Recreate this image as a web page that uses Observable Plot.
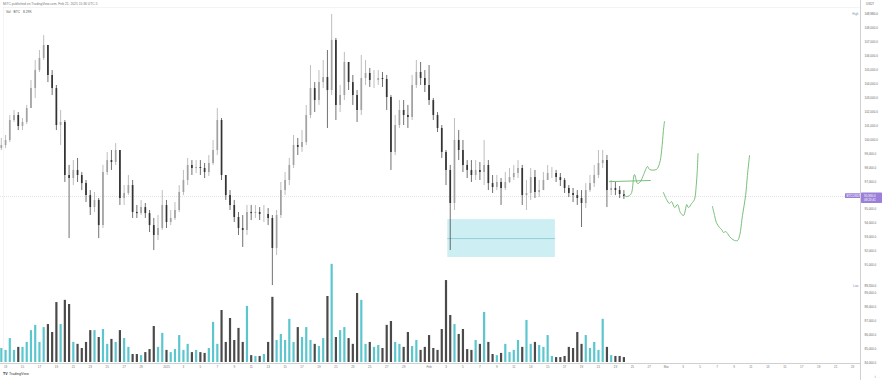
<!DOCTYPE html>
<html><head><meta charset="utf-8">
<script src="https://cdn.jsdelivr.net/npm/d3@7"></script>
<script src="https://cdn.jsdelivr.net/npm/@observablehq/plot@0.6"></script>
<style>
html,body{margin:0;padding:0;background:#fff;}
#chart{position:relative;width:882px;height:380px;overflow:hidden;background:#fff;}
#chart svg{position:absolute;left:0;top:0;}
</style></head><body><div id="chart"></div>
<script>
// ---- data (12h candles, BTC/USDT) ----
const candleStart = "2024-12-12T12:00Z";
const firstOpen = 99370;
const closes = [
99590,99950,101380,101740,100950,101240,102240,103670,104960,105830,
106760,104610,103670,101020,101240,97440,97220,97800,97440,96860,
96000,95140,95650,93850,97650,98510,98370,99230,95790,96150,
96720,94790,94710,95140,94710,93850,93140,93640,95290,94070,
94360,94930,96220,97080,98160,97940,98010,97940,97650,98300,
99230,101380,97440,96000,95290,94430,93640,93500,94790,94710,
94790,94640,94640,94360,92210,94570,96360,97080,98160,99590,
99450,99800,101740,103670,102810,104100,104460,103530,107120,102460,
103170,105540,104100,103170,102100,104390,104750,104250,104250,104390,
104320,103030,99090,101020,102100,101740,101600,103890,104820,104390,
103890,102810,101740,100810,99090,97800,95430,99950,99230,98160,
97800,97440,97800,97650,98160,96860,96580,96940,96510,96940,
97290,97580,97940,96000,96150,97290,96220,96360,97080,97580,
97580,97290,97080,96510,96150,96000,95790,95430,96360,96860,
97440,98300,98510,96360,96510,96360,96080,95930];
const highs = [
100090,100310,101740,102100,101950,101520,102460,104250,105680,106400,
107470,106760,104960,103890,102100,101380,98160,98510,98660,97650,
97080,96360,96220,95790,98160,99090,99230,99730,99230,96720,
97440,97080,95290,95650,95430,94930,94360,94570,96360,95650,
94930,95500,96720,97800,98660,98510,98510,98510,98300,98870,
99950,102240,101520,97440,96360,95650,94790,94570,95290,95290,
95290,95140,95290,95070,94570,94930,96940,97650,98660,100310,
100090,100660,102460,105320,104100,104960,105680,106400,108980,107260,
103890,106260,105540,104610,103530,106040,105680,105110,104960,104960,
104820,104610,103170,101740,102810,102810,102460,104610,105680,105540,
104960,105320,102960,101950,101020,99230,98160,101520,100660,99950,
98510,98510,98510,98370,99950,98510,97440,97440,97220,97650,
97940,98160,98510,98160,97080,97940,97800,97080,97650,98160,
98010,97800,97580,97220,96720,96510,96360,96360,96860,97440,
98160,99230,99230,98870,97080,96940,96650,96360];
const lows = [
99230,99370,99800,101240,100660,100660,101090,102240,102960,104820,
105680,104100,103170,100660,99590,96940,92920,96720,96940,96360,
95500,94570,94790,92920,93640,97440,97800,98160,95290,95290,
96000,94360,94360,94570,94360,93350,92060,92780,93500,93640,
93850,94210,94790,96000,96720,97440,97580,97440,97220,97370,
98160,98870,97080,95650,94930,94070,93140,92280,93140,94210,
94360,94210,94070,93850,89550,91700,94360,96000,96720,97940,
98870,99090,99590,101520,101950,102460,103670,100810,103170,101380,
101950,102810,103530,102460,101240,101740,103890,103750,103670,103890,
103750,102100,97800,98870,100810,101020,100810,101380,103670,103890,
103390,102460,101380,100520,98660,96720,92060,94930,98510,97650,
97220,96940,97080,97080,96720,96360,96150,96360,95290,96360,
96860,97080,97220,95290,94930,95650,95790,95860,96510,97080,
97220,96940,96650,96150,95860,95500,95290,93710,95070,96220,
96580,97220,97940,95140,96000,96000,95790,95720];
const volumesK = [
5.1,4.4,8.7,4.4,5.5,5.5,7.3,11.6,13.5,7.3,
12.7,13.8,10.9,21.8,13.8,22.6,21.1,7.3,6.6,5.1,
7.3,11.6,11.6,9.1,12.0,6.6,8.4,7.3,11.6,8.7,
5.5,2.9,2.9,2.5,3.6,4.7,13.1,5.5,10.6,4.4,
3.6,4.7,9.8,4.4,6.6,3.6,4.4,3.6,3.3,5.1,
14.6,6.6,18.9,7.3,16.0,8.0,12.4,7.3,20.4,2.5,
2.2,2.2,2.9,7.3,23.7,8.0,10.2,8.0,15.7,7.3,
12.7,9.1,12.7,8.0,6.6,5.8,8.7,24.0,35.7,9.1,
11.6,12.7,8.7,6.6,25.1,22.6,6.6,7.3,5.5,6.2,
5.1,13.5,14.9,7.3,6.6,5.5,10.9,5.8,8.0,4.4,
5.5,9.8,5.1,4.4,12.0,29.8,17.1,13.8,10.2,12.0,
4.7,4.4,8.0,6.6,18.2,7.3,2.9,2.5,3.3,6.6,
3.6,4.4,8.0,5.5,15.3,6.6,7.3,6.2,5.5,9.8,
2.2,1.8,1.8,2.2,5.5,5.1,10.9,6.6,9.8,5.1,
7.3,4.4,15.7,5.5,2.5,2.2,2.2,1.8];

// drawn annotations
const zoneBox = {from:"2025-02-03T05:00Z", to:"2025-02-15T22:00Z", top:94280, bottom:91560, mid:92920};
const pathA = [["2025-02-22T07:00Z",97000],["2025-02-27T03:00Z",97080]];
const pathB = [["2025-02-23T23:00Z",96080],["2025-02-24T07:00Z",95930],["2025-02-24T16:00Z",96000],["2025-02-24T22:00Z",96220],["2025-02-25T06:00Z",97510],["2025-02-25T15:00Z",96860],["2025-02-25T23:00Z",97010],["2025-02-26T08:00Z",97510],["2025-02-26T19:00Z",98080],["2025-02-27T01:00Z",97870],["2025-02-27T20:00Z",97870],["2025-02-28T05:00Z",98300],["2025-02-28T11:00Z",99230],["2025-02-28T16:00Z",100660],["2025-02-28T19:00Z",101310]];
const pathC = [["2025-02-28T16:00Z",96220],["2025-03-01T01:00Z",95720],["2025-03-01T09:00Z",95430],["2025-03-01T15:00Z",95570],["2025-03-02T00:00Z",95140],["2025-03-02T08:00Z",95360],["2025-03-02T16:00Z",94790],["2025-03-03T01:00Z",94570],["2025-03-03T06:00Z",94930],["2025-03-03T10:00Z",95360],["2025-03-03T15:00Z",95140],["2025-03-04T00:00Z",95430],["2025-03-04T08:00Z",95720],["2025-03-04T13:00Z",96720],["2025-03-04T16:00Z",97800],["2025-03-04T18:00Z",99010]];
const pathD = [["2025-03-06T11:00Z",95220],["2025-03-06T17:00Z",94570],["2025-03-06T22:00Z",94070],["2025-03-07T07:00Z",93710],["2025-03-07T13:00Z",93570],["2025-03-07T18:00Z",93350],["2025-03-08T00:00Z",93420],["2025-03-08T06:00Z",93280],["2025-03-08T11:00Z",93070],["2025-03-08T17:00Z",92920],["2025-03-09T02:00Z",92780],["2025-03-09T10:00Z",92780],["2025-03-09T16:00Z",93140],["2025-03-10T00:00Z",94570],["2025-03-10T09:00Z",96000],["2025-03-10T14:00Z",97440],["2025-03-10T20:00Z",98870]];

// axes
const xTickDates = ["2024-12-13","2024-12-15","2024-12-17","2024-12-19","2024-12-21","2024-12-23","2024-12-25","2024-12-27","2024-12-29",
"2025-01-01","2025-01-03","2025-01-05","2025-01-07","2025-01-09","2025-01-11","2025-01-13","2025-01-15","2025-01-17","2025-01-19","2025-01-21","2025-01-23","2025-01-25","2025-01-27","2025-01-29",
"2025-02-01","2025-02-03","2025-02-05","2025-02-07","2025-02-09","2025-02-11","2025-02-13","2025-02-15","2025-02-17","2025-02-19","2025-02-21","2025-02-23","2025-02-25","2025-02-27",
"2025-03-01","2025-03-03","2025-03-05","2025-03-07","2025-03-09","2025-03-11","2025-03-13","2025-03-15","2025-03-17","2025-03-19","2025-03-21","2025-03-23"];
const yTicks = [84000,85000,86000,87000,88000,89000,91000,92000,93000,94000,95000,97000,98000,99000,100000,101000,102000,103000,104000,105000,106000,107000,108000];
const xDomain = [new Date("2024-12-12T09:40Z"), new Date("2025-03-23T22:28Z")];

// ---- build ----
const upC = "#a2a2a2", downC = "#333333";
const t0 = +new Date(candleStart);
const candles = closes.map((c, i) => {
  const open = i ? closes[i-1] : firstOpen;
  return {t: new Date(t0 + i*12*3600e3), open, close: c,
    high: Math.max(highs[i], open, c), low: Math.min(lows[i], open, c),
    vol: volumesK[i], col: c >= open ? upC : downC, vcol: c >= open ? "#5cc6cf" : "#4a4a4a"};
});
const W = 882, H = 380;
const font = "'Liberation Sans', 'DejaVu Sans', Arial, sans-serif";
const lastClose = closes[closes.length-1];
const maxHigh = d3.max(candles, d => d.high), minLow = d3.min(candles, d => d.low);
const fmt = d3.format(",.1f");
const pt = d => ({t: new Date(d[0]), p: d[1]});
const green = "#6ab86c";

const vol = Plot.plot({
  width: W, height: H, marginLeft: 0, marginRight: 22, marginTop: 0, marginBottom: 17,
  style: {background: "transparent"},
  x: {type: "utc", domain: xDomain, axis: null},
  y: {domain: [0, 36], range: [362, 263], axis: null},
  color: {type: "identity"},
  marks: [Plot.ruleX(candles, {x: "t", y1: 0, y2: "vol", stroke: "vcol", strokeWidth: 2.2})]
});

const price = Plot.plot({
  width: W, height: H, marginLeft: 0, marginRight: 22, marginTop: 0, marginBottom: 17,
  style: {background: "transparent", fontFamily: font},
  x: {type: "utc", domain: xDomain},
  y: {domain: [84000, 109000], range: [362.5, 13.7]},
  color: {type: "identity"},
  marks: [
    Plot.rect([zoneBox], {x1: d => new Date(d.from), x2: d => new Date(d.to), y1: "bottom", y2: "top", fill: "#cdeff3"}),
    Plot.ruleY([zoneBox], {x1: d => new Date(d.from), x2: d => new Date(d.to), y: "mid", stroke: "#7bc3ca", strokeWidth: 0.7}),
    Plot.ruleY([lastClose], {stroke: "#cccccc", strokeWidth: 0.6, strokeDasharray: "1,1"}),
    Plot.ruleX(candles, {x: "t", y1: "low", y2: "high", stroke: "col", strokeWidth: 0.7}),
    Plot.ruleX(candles, {x: "t", y1: "open", y2: "close", stroke: "col", strokeWidth: 1.7}),
    Plot.line(pathA.map(pt), {x: "t", y: "p", stroke: green, strokeWidth: 0.9}),
    Plot.line(pathB.map(pt), {x: "t", y: "p", stroke: green, strokeWidth: 0.9, curve: "catmull-rom"}),
    Plot.line(pathC.map(pt), {x: "t", y: "p", stroke: green, strokeWidth: 0.9, curve: "catmull-rom"}),
    Plot.line(pathD.map(pt), {x: "t", y: "p", stroke: green, strokeWidth: 0.9, curve: "catmull-rom"}),
    Plot.axisX({ticks: xTickDates.map(s => new Date(s + "T00:00Z")), tickSize: 0, tickPadding: 2.5, fontSize: 3, fill: "#777",
      tickFormat: d => d.getUTCDate() === 1 ? (d.getUTCMonth() === 0 ? String(d.getUTCFullYear()) : d3.utcFormat("%b")(d)) : String(d.getUTCDate())}),
    Plot.axisY({anchor: "right", ticks: yTicks, tickFormat: fmt, tickSize: 0, tickPadding: 4, fontSize: 3, fill: "#666"}),
    Plot.text([maxHigh, minLow], {y: d => d, frameAnchor: "right", dx: 4, text: d => fmt(d), textAnchor: "start", fontSize: 3, fill: "#555"}),
    Plot.text([["High", maxHigh], ["Low", minLow]], {y: d => d[1], frameAnchor: "right", dx: -2, text: d => d[0], textAnchor: "end", fontSize: 3, fill: "#7d93ad"})
  ]
});

const host = document.getElementById("chart");
host.appendChild(vol);
host.appendChild(price);

// chrome and legend texts
const svg = d3.select(price);
const yS = price.scale("y");
const g = svg.append("g").attr("font-family", font).attr("text-anchor", "start");
g.append("line").attr("x1", 3.5).attr("x2", 3.5).attr("y1", 7).attr("y2", 363).attr("stroke", "#ececec").attr("stroke-width", 0.6);
g.append("line").attr("x1", 3).attr("x2", 860).attr("y1", 7.5).attr("y2", 7.5).attr("stroke", "#ececec").attr("stroke-width", 0.6);
g.append("line").attr("x1", 860.5).attr("x2", 860.5).attr("y1", 0).attr("y2", H).attr("stroke", "#c4c4c4").attr("stroke-width", 0.8);
g.append("line").attr("x1", 0).attr("x2", 860.5).attr("y1", 363.5).attr("y2", 363.5).attr("stroke", "#c4c4c4").attr("stroke-width", 0.8);
g.append("text").attr("x", 3).attr("y", 5.2).attr("font-size", 3.3).attr("fill", "#777")
  .text("MiTC published on TradingView.com, Feb 21, 2025 15:36 UTC-5");
g.append("text").attr("x", 6).attr("y", 13).attr("font-size", 3.3).attr("fill", "#555").text("Vol · BTC");
g.append("text").attr("x", 23).attr("y", 13).attr("font-size", 3.3).attr("fill", "#555").text("8.29K");
g.append("text").attr("x", 866).attr("y", 5).attr("font-size", 3).attr("fill", "#666").text("USDT");
g.append("text").attr("x", 3).attr("y", 375).attr("font-size", 3.6).attr("font-weight", "bold").attr("fill", "#222").text("TV");
g.append("text").attr("x", 9).attr("y", 375).attr("font-size", 3.6).attr("fill", "#333").text("TradingView");
// current price labels
const yc = yS.apply(lastClose);
g.append("rect").attr("x", 861).attr("y", yc - 3.6).attr("width", 21).attr("height", 10.5).attr("fill", "#9b7fd8").attr("rx", 0.6);
g.append("text").attr("x", 864).attr("y", yc + 1).attr("font-size", 3).attr("fill", "#fff").text(fmt(lastClose));
g.append("text").attr("x", 864).attr("y", yc + 5.2).attr("font-size", 3).attr("fill", "#fff").text("08:23:41");
g.append("rect").attr("x", 845).attr("y", yc - 2.7).attr("width", 15).attr("height", 4.6).attr("fill", "#9b7fd8").attr("rx", 0.5);
g.append("text").attr("x", 846.5).attr("y", yc + 0.9).attr("font-size", 3).attr("fill", "#fff").text("BTCUSDT");
</script></body></html>
